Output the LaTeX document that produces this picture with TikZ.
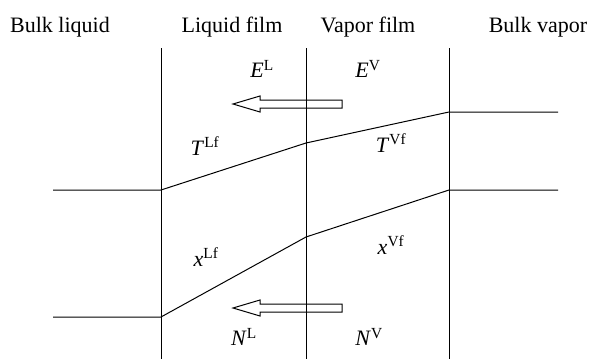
\documentclass[tikz,border=0pt]{standalone}
\usepackage{amsmath}
\usepackage{fontspec}
\setmainfont{Liberation Serif}
\usepackage{tikz}
\usetikzlibrary{calc,positioning}

\newcommand{\flux}[2]{\textit{#1}$^{\textrm{#2}}$}

\begin{document}
\begin{tikzpicture}[
    x=1pt, y=-1pt,
    font=\fontsize{22}{26}\selectfont,
    header/.style={anchor=base, inner sep=0pt},
    sym/.style={inner sep=0pt},
    wall/.style={line width=1pt, black},
    profile/.style={line width=1pt, black},
    blockarrow/.style={line width=1pt, black, line join=miter}
]
\useasboundingbox (0,0) rectangle (590,359);

% region headers
\node[header] (bulkl) at (60,32) {Bulk liquid};
\node[header] (filml) at (232,32) {Liquid film};
\node[header] (filmv) at (368,32) {Vapor film};
\node[header] (bulkv) at (538,32) {Bulk vapor};

% film boundaries
\coordinate (w1top) at (161,48);  \coordinate (w1bot) at (161,359);
\coordinate (w2top) at (306,48);  \coordinate (w2bot) at (306,359);
\coordinate (w3top) at (449,48);  \coordinate (w3bot) at (449,359);
\draw[wall] (w1top) -- (w1bot);
\draw[wall] (w2top) -- (w2bot);
\draw[wall] (w3top) -- (w3bot);

% temperature profile
\coordinate (t0) at (53,190);
\coordinate (t1) at (161,190);
\coordinate (t2) at (306,143);
\coordinate (t3) at (449,112);
\coordinate (t4) at (558,112);
\draw[profile] (t0) -- (t1) -- (t2) -- (t3) -- (t4);

% composition profile
\coordinate (c0) at (53,317);
\coordinate (c1) at (161,317);
\coordinate (c2) at (306,237);
\coordinate (c3) at (449,190);
\coordinate (c4) at (558,190);
\draw[profile] (c0) -- (c1) -- (c2) -- (c3) -- (c4);

% energy and mass flux arrows
\coordinate (etip) at (233,104);
\coordinate (ntip) at (233,308);
\draw[blockarrow] (etip) -- ++(27,-8) -- ++(0,4) -- ++(82,0) -- ++(0,8)
    -- ++(-82,0) -- ++(0,4) -- cycle;
\draw[blockarrow] (ntip) -- ++(27,-8) -- ++(0,4) -- ++(82,0) -- ++(0,8)
    -- ++(-82,0) -- ++(0,4) -- cycle;

% labels
\node[sym] (el) at (262,69) {\flux{E}{L}};
\node[sym] (ev) at (368,69) {\flux{E}{V}};
\node[sym] (tl) at (205,146) {\flux{T}{Lf}};
\node[sym] (tv) at (391,143) {\flux{T}{Vf}};
\node[sym] (xl) at (206,257) {\flux{x}{Lf}};
\node[sym] (xv) at (391,245) {\flux{x}{Vf}};
\node[sym] (nl) at (244,337) {\flux{N}{L}};
\node[sym] (nv) at (369,337) {\flux{N}{V}};
\end{tikzpicture}
\end{document}
